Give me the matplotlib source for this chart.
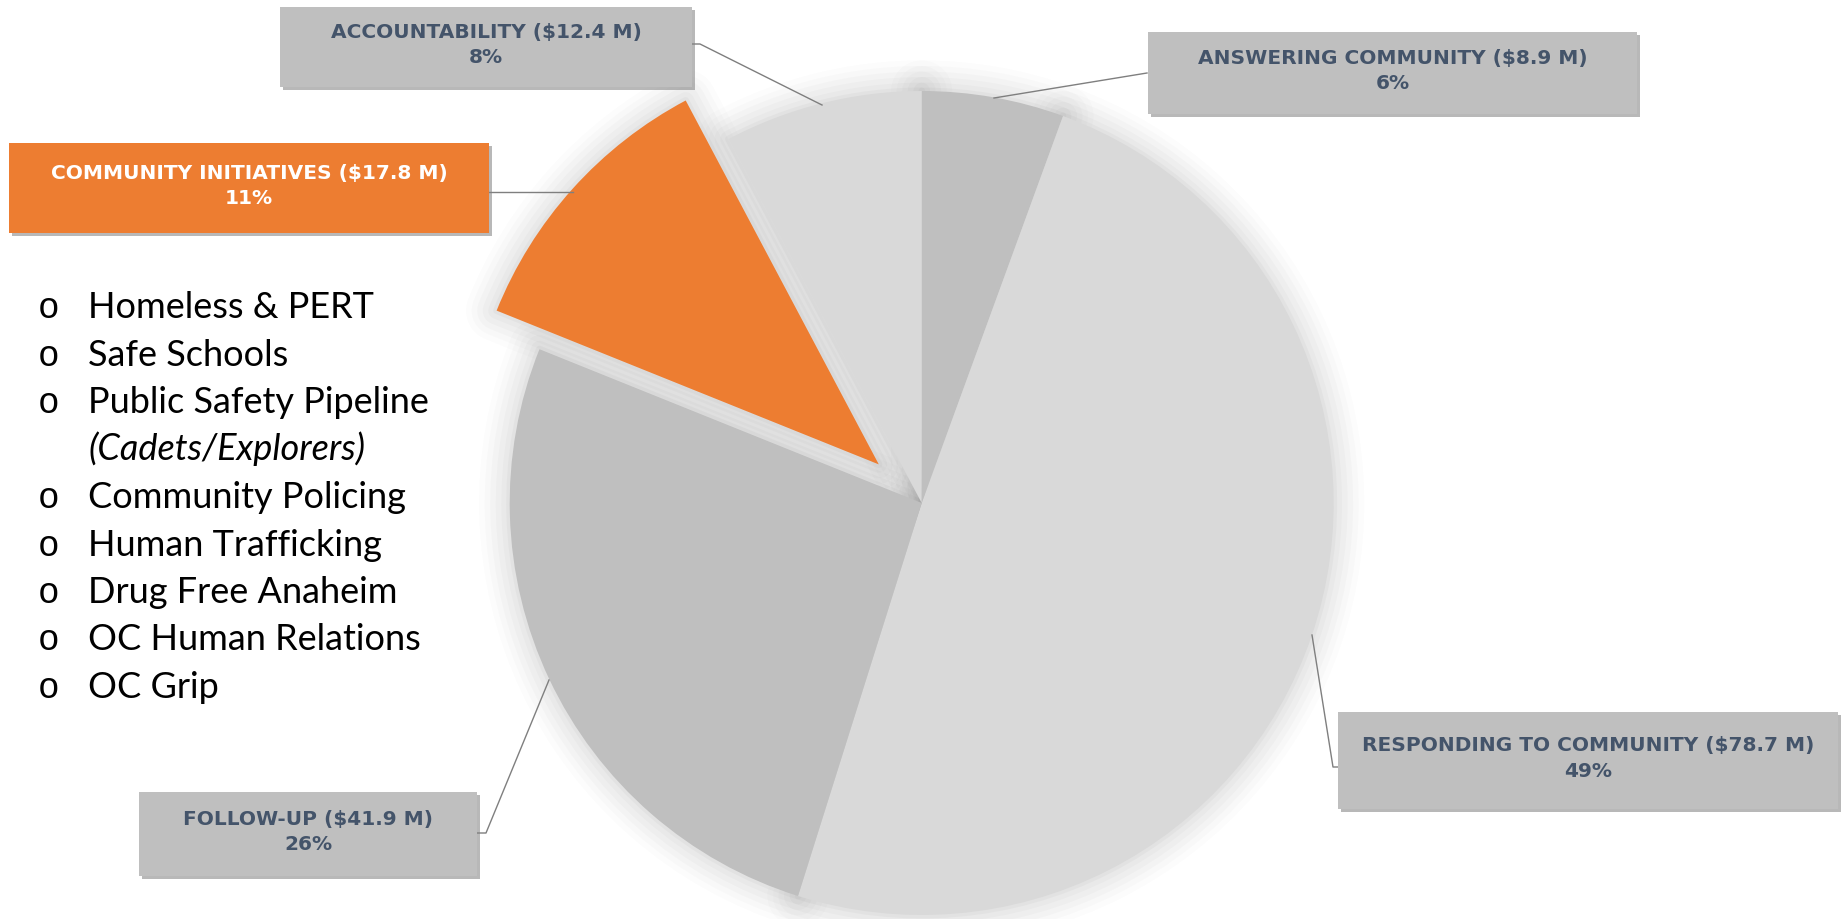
import matplotlib
matplotlib.use('Agg')
from matplotlib import pyplot as plt
from matplotlib.patches import Wedge, Rectangle
from matplotlib import patheffects as pe

W, H = 1845, 919

categories = ['ANSWERING COMMUNITY', 'RESPONDING TO COMMUNITY', 'FOLLOW-UP',
              'COMMUNITY INITIATIVES', 'ACCOUNTABILITY']
amounts = [8.9, 78.7, 41.9, 17.8, 12.4]  # $ millions
explode = [0, 0, 0, 0.14, 0]  # fraction of the radius
colors = ['#BFBFBF', '#D9D9D9', '#BFBFBF', '#ED7D31', '#D9D9D9']

initiatives = ['Homeless & PERT', 'Safe Schools', 'Public Safety Pipeline',
               '(Cadets/Explorers)', 'Community Policing', 'Human Trafficking',
               'Drug Free Anaheim', 'OC Human Relations', 'OC Grip']

total = sum(amounts)
percents = [round(100 * a / total) for a in amounts]

fig = plt.figure(figsize=(W / 100, H / 100), dpi=100)
ax = fig.add_axes([0, 0, 1, 1])

cx, cy, r = 921.7, H - 503, 412
wedges, _ = ax.pie(amounts, colors=colors, explode=[e * r for e in explode],
                   startangle=90, counterclock=False, center=(cx, cy), radius=r,
                   wedgeprops=dict(linewidth=0, zorder=2))

# soft glow behind the wedges
for w in wedges:
    for lw, a in [(44, 0.02), (36, 0.025), (28, 0.03), (20, 0.035), (12, 0.04), (5, 0.05)]:
        ax.add_patch(Wedge(w.center, w.r, w.theta1, w.theta2, fc='none',
                           ec=(0.45, 0.45, 0.45, a), lw=lw, joinstyle='round', zorder=1))

ax.set_xlim(0, W)
ax.set_ylim(0, H)
ax.set_aspect('auto')
ax.axis('off')

# label boxes: (x0, y0, x1, y1) in image pixels, leader line points
boxes = [
    ((1148, 32, 1637, 114), [(1147, 73), (994, 98)]),
    ((1338, 712, 1838, 809), [(1338, 767), (1333, 767), (1312, 635)]),
    ((139, 792, 477, 876), [(477, 833), (486, 833), (549, 680)]),
    ((9, 143, 489, 233), [(489, 192), (573, 192)]),
    ((280, 7, 692, 87), [(692, 44), (700, 44), (822, 105)]),
]

shadow = [pe.SimplePatchShadow(offset=(2.5, -2.5), shadow_rgbFace='#7f7f7f', alpha=0.55),
          pe.Normal()]
for i, ((x0, y0, x1, y1), line) in enumerate(boxes):
    is_hl = categories[i] == 'COMMUNITY INITIATIVES'
    rect = Rectangle((x0, H - y1), x1 - x0, y1 - y0, fc='#ED7D31' if is_hl else '#BFBFBF',
                     ec='none', zorder=5)
    rect.set_path_effects(shadow)
    ax.add_patch(rect)
    ax.text((x0 + x1) / 2, H - (y0 + y1) / 2 + 2,
            f'{categories[i]} (${amounts[i]} M)\n{percents[i]}%',
            ha='center', va='center', fontsize=14.5, fontweight='bold', family='DejaVu Sans',
            color='white' if is_hl else '#44546A', linespacing=1.45, zorder=6)
    xs = [p[0] for p in line]
    ys = [H - p[1] for p in line]
    ax.plot(xs, ys, color='#7F7F7F', lw=1, zorder=4)

# bullet list
y = 318
for item in initiatives:
    sub = item.startswith('(')
    if not sub:
        ax.text(38, H - y, 'o', fontsize=26, family='Liberation Mono', color='black',
                va='baseline')
    ax.text(88, H - y, item, fontsize=26, family='Lato', color='black', va='baseline',
            style='italic' if sub else 'normal')
    y += 47.5

fig.savefig('out.png', dpi=100)
